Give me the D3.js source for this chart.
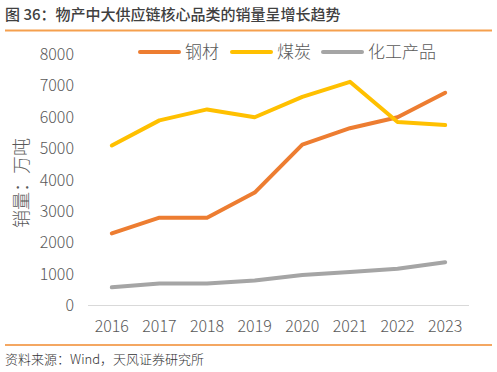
<!DOCTYPE html>
<html><head><meta charset="utf-8">
<script src="https://cdn.jsdelivr.net/npm/d3@7/dist/d3.min.js"></script>
<style>body{margin:0;background:#fff;}svg{display:block;font-family:"Noto Sans CJK SC","Noto Sans",sans-serif;}</style>
</head><body>
<script>
const years = ["2016","2017","2018","2019","2020","2021","2022","2023"];
const steel = [2300, 2800, 2800, 3600, 5130, 5650, 6000, 6780];
const coal = [5100, 5900, 6250, 6000, 6650, 7130, 5850, 5750];
const chem = [580, 700, 700, 800, 970, 1070, 1170, 1380];
const seriesNames = ["钢材", "煤炭", "化工产品"];
const yTicks = [0,1000,2000,3000,4000,5000,6000,7000,8000];
const title = "图 36：物产中大供应链核心品类的销量呈增长趋势";
const source = "资料来源：Wind，天风证券研究所";
const yLabel = "销量：万吨";

const W = 497, H = 372;
const svg = d3.select("body").append("svg").attr("width", W).attr("height", H);
const colors = ["#ED7D31", "#FFC000", "#A5A5A5"];
const dataSets = [steel, coal, chem];

svg.append("text").attr("x", 5).attr("y", 20).attr("font-size", 15).attr("fill", "#404040").attr("font-weight", 500).text(title);
svg.append("line").attr("x1", 5).attr("x2", 492).attr("y1", 30.5).attr("y2", 30.5).attr("stroke", "#F5A04E").attr("stroke-width", 2);
svg.append("line").attr("x1", 5).attr("x2", 492).attr("y1", 345).attr("y2", 345).attr("stroke", "#F08A2E").attr("stroke-width", 1.5);
svg.append("text").attr("x", 5).attr("y", 364).attr("font-size", 13).attr("fill", "#333").attr("font-weight", 300).text(source);

const x = d3.scaleBand().domain(years).range([88, 469]);
const y = d3.scaleLinear().domain([0, 8000]).range([305.5, 54.5]);

svg.append("line").attr("x1", 88).attr("x2", 469).attr("y1", y(0)).attr("y2", y(0)).attr("stroke", "#D9D9D9").attr("stroke-width", 1);

svg.append("g").selectAll("text").data(yTicks).join("text")
  .attr("x", 74).attr("y", d => y(d)).attr("dy", "0.35em").attr("text-anchor", "end")
  .attr("font-size", 16).attr("font-weight", 300).attr("fill", "#595959").text(d => d);

svg.append("g").selectAll("text").data(years).join("text")
  .attr("x", d => x(d) + x.bandwidth()/2).attr("y", 326).attr("dy", "0.35em").attr("text-anchor", "middle")
  .attr("font-size", 16).attr("font-weight", 300).attr("fill", "#595959").text(d => d);

svg.append("text").attr("transform", "translate(22,183) rotate(-90)").attr("text-anchor", "middle").attr("dy", "0.35em")
  .attr("font-size", 18).attr("font-weight", 300).attr("fill", "#595959").text(yLabel);

const line = d3.line().x((d, i) => x(years[i]) + x.bandwidth()/2).y(d => y(d));
[2, 0, 1].forEach(k => {
  svg.append("path").datum(dataSets[k]).attr("d", line).attr("fill", "none")
    .attr("stroke", colors[k]).attr("stroke-width", 4).attr("stroke-linecap", "round").attr("stroke-linejoin", "round");
});

const legX = [140, 232, 323];
seriesNames.forEach((n, i) => {
  svg.append("line").attr("x1", legX[i]).attr("x2", legX[i] + 39).attr("y1", 52).attr("y2", 52)
    .attr("stroke", colors[i]).attr("stroke-width", 4).attr("stroke-linecap", "round");
  svg.append("text").attr("x", legX[i] + 45).attr("y", 52).attr("dy", "0.35em").attr("font-size", 17)
    .attr("font-weight", 300).attr("fill", "#595959").text(n);
});
</script>
</body></html>
